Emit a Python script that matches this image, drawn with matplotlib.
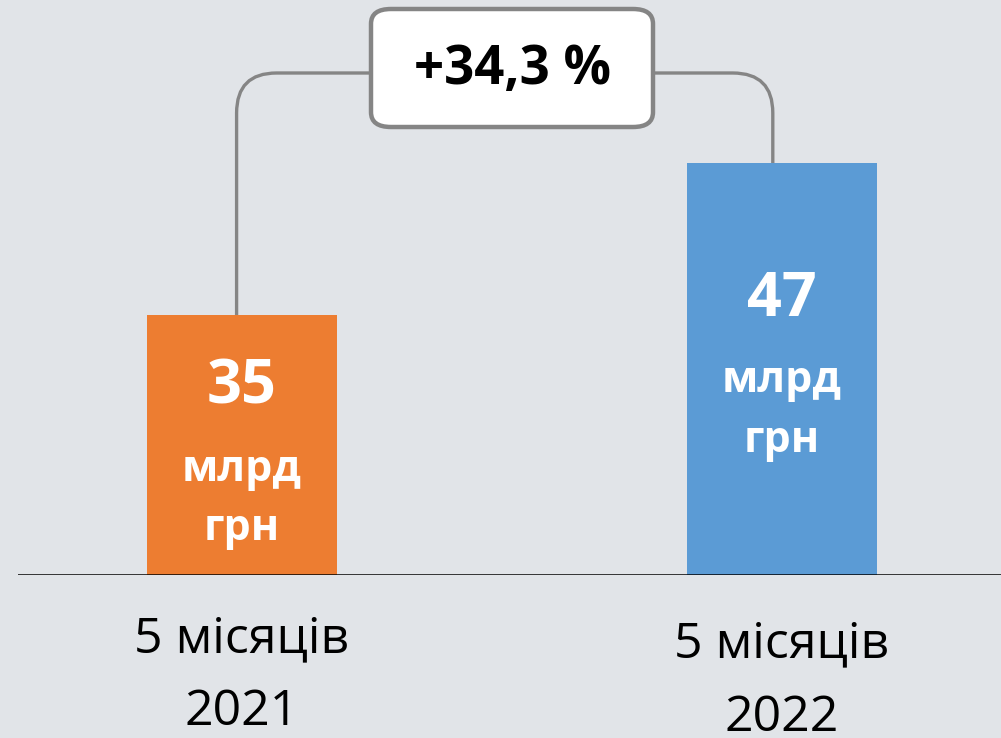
import numpy as np
import matplotlib.pyplot as plt
from matplotlib.patches import FancyBboxPatch
from matplotlib.path import Path
from matplotlib.patches import PathPatch

plt.rcParams['font.family'] = ['Open Sans', 'DejaVu Sans']

# --- dados ---
periodos = ['5 місяців\n2021', '5 місяців\n2022']
valores = [35, 47]
unidade = 'млрд\nгрн'
variacao = '+34,3 %'
cores = ['#ED7D31', '#5B9BD5']

FUNDO = '#E1E4E8'
CINZA = '#858585'

W, H = 1001, 738
fig = plt.figure(figsize=(W / 100, H / 100), dpi=100, facecolor=FUNDO)

# eixo: linha de base em y=575 px, de x=18 até a borda direita
ax = fig.add_axes([18 / W, (H - 575) / H, 1 - 18 / W, 575 / H])
ax.set_facecolor(FUNDO)

x = np.arange(len(valores))
ax.bar(x, valores, width=0.352, color=cores, zorder=2)
ax.set_xlim(-0.4148, 1.4056)
ax.set_ylim(14.5, 14.5 + 575 / 12.67)
ax.axhline(14.5, color='black', lw=1.8, zorder=3)
for s in ax.spines.values():
    s.set_visible(False)
ax.set_xticks([])
ax.set_yticks([])

# rótulos dentro das barras (posição vertical de cada bloco)
y_numero = [29.26, 36.2]
y_unidade = [20.5, 27.5]
for xi, v, yn, yu in zip(x, valores, y_numero, y_unidade):
    ax.text(xi, yn, str(v), ha='center', va='center', color='white',
            fontsize=44, fontweight='bold', zorder=4)
    ax.text(xi, yu, unidade, ha='center', va='center', color='white',
            fontsize=31, fontweight='bold', linespacing=1.5, zorder=4)

# rótulos das categorias
y_rotulo = [6.55, 6.1]
for xi, lab, yr_ in zip(x, periodos, y_rotulo):
    ax.text(xi, yr_, lab, ha='center', va='center', color='black',
            fontsize=36, linespacing=1.62, clip_on=False)

# conector com cantos arredondados (coordenadas de display)
fig.canvas.draw()
to_px = ax.transData.transform
xl, yl = to_px((x[0] - 0.01, valores[0]))
xr, yr = to_px((x[1] - 0.017, valores[1]))
y_top = H - 73
r = 40
box_l, box_r = 371, 653

verts = [(xl, yl), (xl, y_top - r), (xl, y_top), (xl + r, y_top), (box_l, y_top)]
codes = [Path.MOVETO, Path.LINETO, Path.CURVE3, Path.CURVE3, Path.LINETO]
ax.add_patch(PathPatch(Path(verts, codes), fill=False, edgecolor=CINZA, lw=2.4,
                       transform=None, clip_on=False, zorder=1))
verts = [(box_r, y_top), (xr - r, y_top), (xr, y_top), (xr, y_top - r), (xr, yr)]
ax.add_patch(PathPatch(Path(verts, codes), fill=False, edgecolor=CINZA, lw=2.4,
                       transform=None, clip_on=False, zorder=1))

# caixa com a variação
caixa = FancyBboxPatch((box_l / W, (H - 127) / H), (box_r - box_l) / W, 118 / H,
                       boxstyle='round,pad=0,rounding_size=0.02',
                       transform=fig.transFigure, facecolor='white',
                       edgecolor=CINZA, lw=3.2, zorder=5)
fig.patches.append(caixa)
fig.text((box_l + box_r) / 2 / W, 1 - 70 / H, variacao, ha='center', va='center',
         fontsize=38, fontweight='bold', color='black', zorder=6)

fig.savefig('out.png', dpi=100, facecolor=FUNDO)
